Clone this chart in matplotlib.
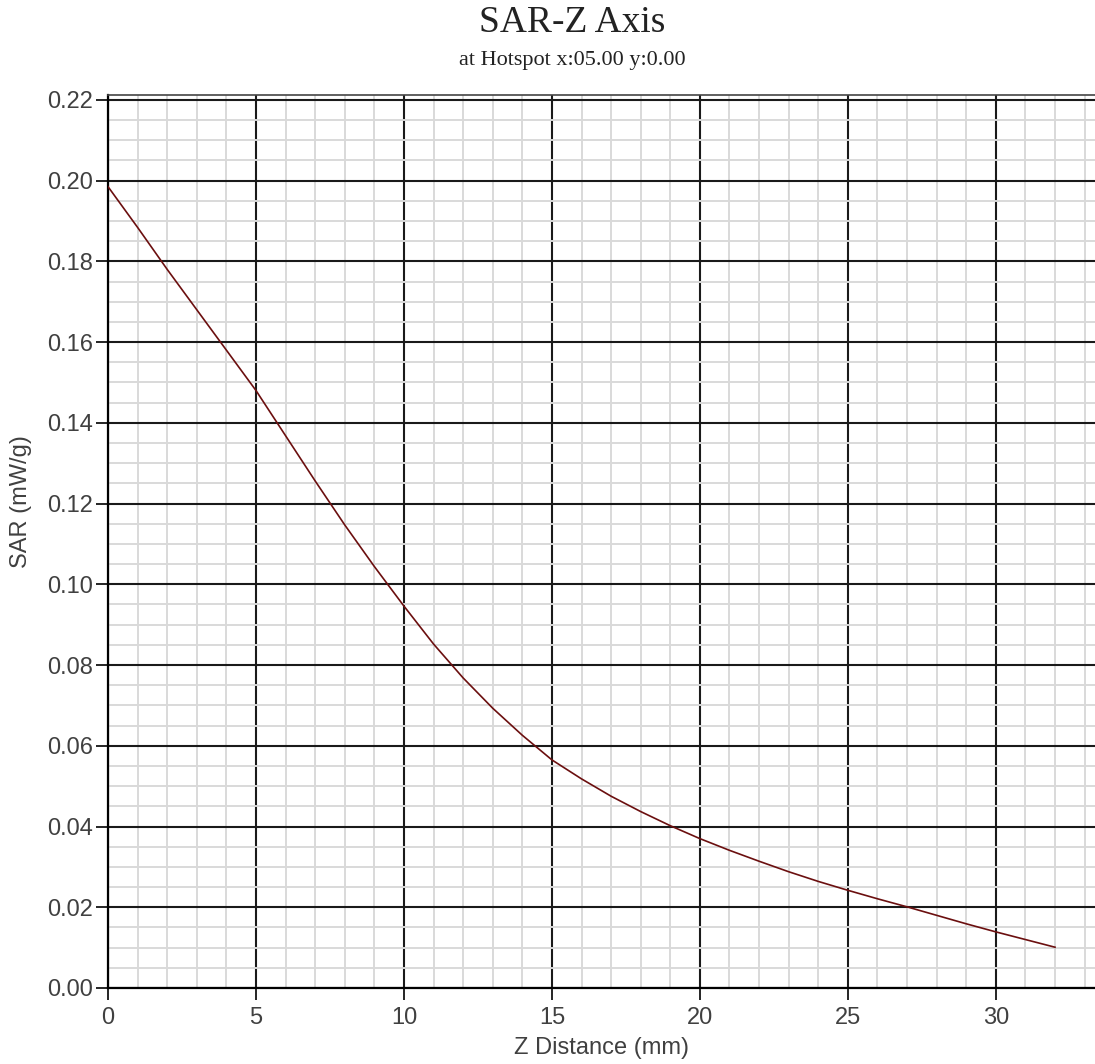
import matplotlib

matplotlib.use("Agg")
import matplotlib.pyplot as plt
from matplotlib.ticker import MultipleLocator

# SAR along the Z axis at the hotspot
z_mm = [0, 1, 2, 3, 4, 5, 6, 7, 8, 9, 10, 11, 12, 13, 14, 15, 16,
        17, 18, 19, 20, 21, 22, 23, 24, 25, 26, 27, 28, 29, 30, 31, 32]
sar = [0.1985, 0.1884, 0.178, 0.168, 0.158, 0.148, 0.1368, 0.1256, 0.1147,
       0.1044, 0.0946, 0.0852, 0.0768, 0.0693, 0.0626, 0.0565, 0.0518, 0.0475,
       0.0437, 0.0402, 0.037, 0.0341, 0.0314, 0.0288, 0.0264, 0.0242, 0.0221,
       0.0201, 0.018, 0.0159, 0.0139, 0.012, 0.0101]

TITLE = "SAR-Z Axis"
SUBTITLE = "at Hotspot x:05.00 y:0.00"
XLABEL = "Z Distance (mm)"
YLABEL = "SAR (mW/g)"

LINE_COLOR = "#6b0f0f"
MAJOR_COLOR = "#1a1a1a"
MINOR_COLOR = "#d9d9d9"
TICK_TEXT = "#404040"

fig = plt.figure(figsize=(10.95, 10.64), dpi=100)
ax = fig.add_axes([108 / 1095, 1 - 988 / 1064, 1 - 108 / 1095, (988 - 95) / 1064])

ax.plot(z_mm, sar, color=LINE_COLOR, lw=1.2, zorder=5)

ax.set_xlim(0, 33.35)
ax.set_ylim(0, 0.2212)
ax.xaxis.set_major_locator(MultipleLocator(5))
ax.xaxis.set_minor_locator(MultipleLocator(1))
ax.yaxis.set_major_locator(MultipleLocator(0.02))
ax.yaxis.set_minor_locator(MultipleLocator(0.005))
ax.yaxis.set_major_formatter(lambda v, pos: f"{v:.2f}")

ax.grid(which="minor", color=MINOR_COLOR, lw=1.4, zorder=0)
ax.grid(which="major", color=MAJOR_COLOR, lw=1.5, zorder=1)
ax.set_axisbelow(True)

ax.tick_params(which="major", direction="out", length=8.5, width=1.2,
               color="black", labelsize=17, labelcolor=TICK_TEXT, pad=2)
ax.tick_params(axis="x", which="major", pad=5)
ax.tick_params(which="minor", length=0)
for lab in ax.get_xticklabels() + ax.get_yticklabels():
    lab.set_family("Liberation Sans")

for side in ("left", "bottom"):
    ax.spines[side].set_color("black")
    ax.spines[side].set_linewidth(1.6)
ax.spines["top"].set_color("#444444")
ax.spines["top"].set_linewidth(1.2)
ax.spines["right"].set_visible(False)

ax.set_xlabel(XLABEL, fontsize=17, family="Liberation Sans", color=TICK_TEXT, labelpad=6)
ax.set_ylabel(YLABEL, fontsize=17, family="Liberation Sans", color=TICK_TEXT)
ax.yaxis.set_label_coords(-0.077, 0.545)

fig.text(572 / 1095, 1 - 23 / 1064, TITLE, ha="center", va="center",
         fontsize=27, family="Liberation Serif", color="#222222")
fig.text(572 / 1095, 1 - 60 / 1064, SUBTITLE, ha="center", va="center",
         fontsize=16, family="Liberation Serif", color="#222222")

fig.savefig("out.png", dpi=100)
